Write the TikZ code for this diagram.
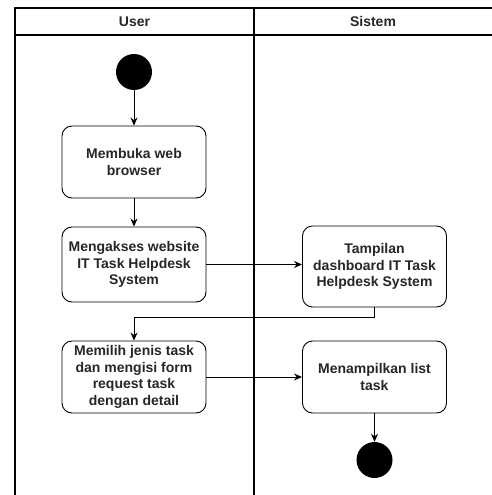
\documentclass[tikz,border=0pt]{standalone}
\usepackage{fontspec}
\setmainfont{Liberation Sans}
\usetikzlibrary{arrows.meta}
\begin{document}
\begin{tikzpicture}[x=1pt,y=-1pt,
  lane/.style={line width=1.3pt,draw=black},
  act/.style={draw=black,line width=0.9pt,rounded corners=10pt,minimum width=144pt,minimum height=72pt,align=center,inner sep=2pt,font=\bfseries\fontsize{14}{16.7}\selectfont,text=black!85},
  hdr/.style={font=\bfseries\fontsize{14}{16.7}\selectfont,text=black!85},
  dot/.style={circle,fill=black,minimum size=36pt,inner sep=0pt},
  flow/.style={draw=black,line width=0.9pt,-{Stealth[length=8pt,width=7pt]}}
]
\useasboundingbox (0,0) rectangle (492,495);
% swimlanes
\coordinate (tl) at (15,8);
\coordinate (tr) at (493,8);
\coordinate (hl) at (15,35);
\coordinate (hr) at (493,35);
\coordinate (bl) at (15,496);
\coordinate (tm) at (254,8);
\coordinate (bm) at (254,496);
\draw[lane] (bl) -- (tl) -- (tr);
\draw[lane] (hl) -- (hr);
\draw[lane] (tm) -- (bm);
\node[hdr] (huser) at (134.5,21.5) {User};
\node[hdr] (hsis) at (373,21.5) {Sistem};
% nodes
\node[dot] (start) at (134,72) {};
\node[act,minimum height=72pt] (b1) at (134,162) {Membuka web\\browser};
\node[act,minimum height=75pt] (b2) at (134,264.5) {Mengakses website\\IT Task Helpdesk\\System};
\node[act,minimum height=81pt] (b3) at (374.5,266.5) {Tampilan\\dashboard IT Task\\Helpdesk System};
\node[act,minimum height=72pt] (b4) at (134,377) {Memilih jenis task\\dan mengisi form\\request task\\dengan detail};
\node[act,minimum height=72pt] (b5) at (374.5,377) {Menampilkan list\\task};
\node[dot] (end) at (374.5,460) {};
% connectors
\coordinate (c1) at (374.5,317);
\coordinate (c2) at (134,317);
\draw[flow] (start) -- (b1);
\draw[flow] (b1) -- (b2);
\draw[flow] (b2.east) -- (b2.east -| b3.west);
\draw[flow] (b3.south) -- (c1) -- (c2) -- (b4.north);
\draw[flow] (b4.east) -- (b4.east -| b5.west);
\draw[flow] (b5) -- (end);
\end{tikzpicture}
\end{document}
